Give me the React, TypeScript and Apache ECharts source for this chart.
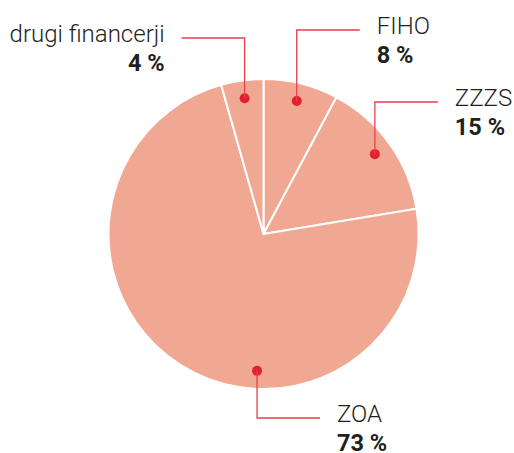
import React, { useEffect, useRef } from 'react';
import * as echarts from 'echarts';

// ---- data ----
const categories = ['FIHO', 'ZZZS', 'ZOA', 'drugi financerji'];
const shares = [7.8, 14.6, 73.2, 4.4];

// ---- layout (not data) ----
const CENTER: [number, number] = [263.5, 234];
const RADIUS = 155;
const DOT_R = 0.884 * RADIUS;
const ARM = 63;
const GAP = 17;
const leaders: { elbowY: number; dir: number; dotAngle?: number }[] = [
  { elbowY: 30, dir: 1 },
  { elbowY: 102, dir: 1 },
  { elbowY: 418, dir: 1, dotAngle: 267.3 },
  { elbowY: 38, dir: -1 },
];

const RED = '#E3202F';
const LINE_RED = '#E6404A';
const TEXT = '#231F20';
const FONT = 'Roboto, "Noto Sans", sans-serif';
const NAME_LH = 40;
const VALUE_LH = 17;

function midAngles(values: number[]) {
  const total = values.reduce((a, b) => a + b, 0);
  let start = 90;
  return values.map((v) => {
    const sweep = (v / total) * 360;
    const mid = start - sweep / 2;
    start -= sweep;
    return mid;
  });
}

function dotPoint(i: number): [number, number] {
  const mids = midAngles(shares);
  const deg = leaders[i].dotAngle ?? mids[i];
  const a = (deg * Math.PI) / 180;
  return [CENTER[0] + DOT_R * Math.cos(a), CENTER[1] - DOT_R * Math.sin(a)];
}

function richFor(dir: number) {
  const align = dir > 0 ? 'left' : 'right';
  return {
    n: { fontFamily: FONT, fontSize: 24, fontWeight: 300, color: TEXT, lineHeight: NAME_LH, align },
    v: { fontFamily: FONT, fontSize: 23.5, fontWeight: 'bold', color: TEXT, lineHeight: VALUE_LH, align },
  };
}

export default function App() {
  const ref = useRef<HTMLDivElement>(null);
  useEffect(() => {
    if (!ref.current) return;
    const chart = echarts.init(ref.current, undefined, { renderer: 'svg' });
    chart.setOption({
      animation: false,
      backgroundColor: '#ffffff',
      series: [
        {
          // visible pie + red dots
          type: 'pie',
          center: CENTER,
          radius: RADIUS,
          startAngle: 90,
          clockwise: true,
          avoidLabelOverlap: false,
          silent: true,
          z: 2,
          data: categories.map((name, i) => ({ name, value: shares[i] })),
          itemStyle: { color: '#F0A892', borderColor: '#ffffff', borderWidth: 2 },
          label: {
            show: true,
            position: 'inside',
            formatter: '{d| }',
            rich: { d: { width: 10, height: 10, borderRadius: 5, backgroundColor: RED, fontSize: 1 } },
          },
          labelLine: { show: false },
          labelLayout: (p: any) => {
            const d = dotPoint(p.dataIndex);
            return { x: d[0], y: d[1], align: 'center', verticalAlign: 'middle' };
          },
        },
        {
          // transparent overlay carrying the texts and leader lines
          type: 'pie',
          center: CENTER,
          radius: RADIUS,
          startAngle: 90,
          clockwise: true,
          avoidLabelOverlap: false,
          silent: true,
          z: 3,
          data: categories.map((name, i) => ({
            name,
            value: shares[i],
            label: { align: leaders[i].dir > 0 ? 'left' : 'right', rich: richFor(leaders[i].dir) },
          })),
          itemStyle: { color: 'rgba(0,0,0,0)', borderWidth: 0 },
          label: {
            show: true,
            position: 'outside',
            formatter: (p: any) => `{n|${p.name}}\n{v|${Math.round(p.value)} %}`,
          },
          labelLine: {
            show: true,
            showAbove: true,
            length: 10,
            length2: 10,
            smooth: false,
            lineStyle: { color: LINE_RED, width: 1.3 },
          },
          labelLayout: (p: any) => {
            const i = p.dataIndex;
            const L = leaders[i];
            const d = dotPoint(i);
            const endX = d[0] + L.dir * ARM;
            return {
              x: endX + L.dir * GAP,
              y: L.elbowY - 4 - NAME_LH / 2,
              align: L.dir > 0 ? 'left' : 'right',
              verticalAlign: 'top',
              labelLinePoints: [d, [d[0], L.elbowY], [endX, L.elbowY]],
            };
          },
        },
      ],
    });
    return () => chart.dispose();
  }, []);
  return <div ref={ref} style={{ position: 'fixed', left: 0, top: 0, width: 514, height: 453 }} />;
}
